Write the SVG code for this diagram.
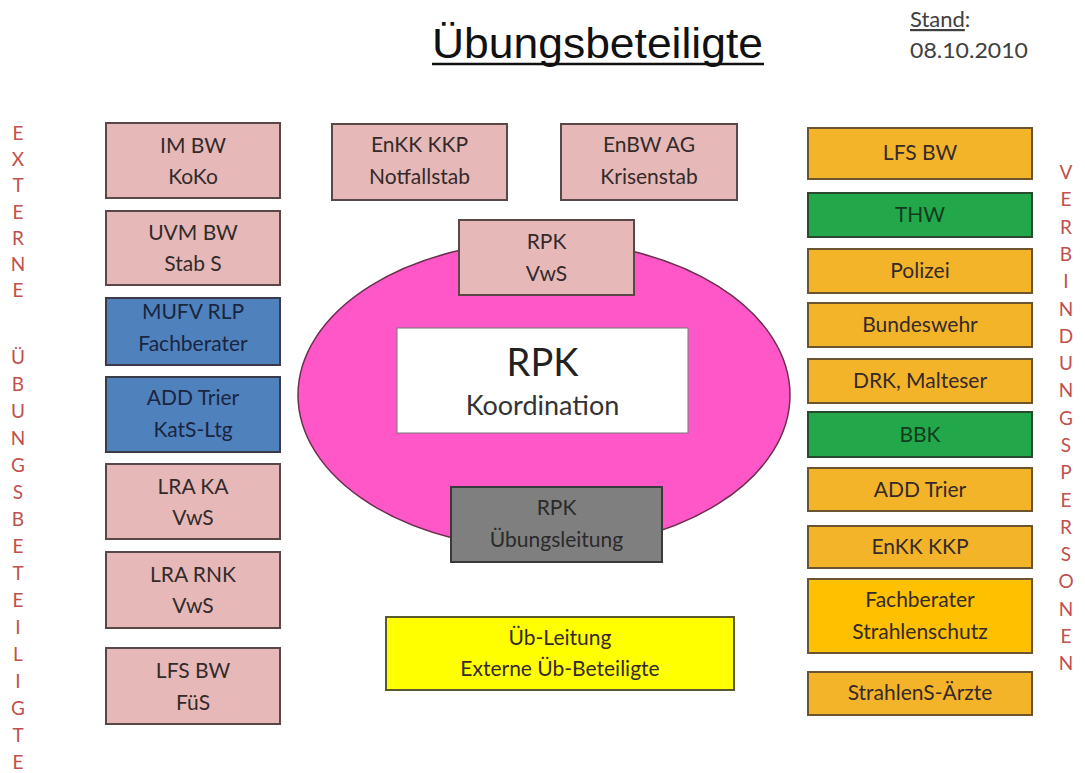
<svg xmlns="http://www.w3.org/2000/svg" width="1085" height="773" viewBox="0 0 1085 773">
<style>
.t{font-family:Lato,"Open Sans",sans-serif;font-size:21px;fill:#342a2a;text-anchor:middle}
.pk{fill:#E6B9B8;stroke:#5a4848;stroke-width:2}
.bl{fill:#4F81BD;stroke:#3a3a48;stroke-width:2}
.or{fill:#F4B42A;stroke:#6b5530;stroke-width:2}
.gd{fill:#FFC000;stroke:#6b5530;stroke-width:2}
.gr{fill:#22A84A;stroke:#2a4a30;stroke-width:2}
.tb{fill:#1a2540}
.tg{fill:#143a20}
.v{font-family:Lato,"Open Sans",sans-serif;font-size:19px;fill:#C0504D;text-anchor:middle}
</style>
<rect width="1085" height="773" fill="#ffffff"/>
<g id="title">
<text x="432" y="58" font-family="'Liberation Sans',Arial,sans-serif" font-size="42" fill="#111" textLength="331" lengthAdjust="spacingAndGlyphs">Übungsbeteiligte</text>
<line x1="432" y1="64" x2="764" y2="64" stroke="#111" stroke-width="2.5"/>
</g>
<g id="stand" font-family="Lato,'Open Sans',sans-serif" font-size="22" fill="#404040">
<text x="910" y="27"><tspan text-decoration="underline">Stand</tspan>:</text>
<text x="910" y="58" textLength="118" lengthAdjust="spacingAndGlyphs">08.10.2010</text>
</g>
<g id="ellipse"><ellipse cx="544" cy="395" rx="246" ry="154" fill="#FF57C8" stroke="#6a3050" stroke-width="1.5"/></g>
<g id="connectors"></g>
<g id="im-bw"><rect class="pk" x="106" y="123" width="174" height="75"/><text class="t" x="193" y="153">IM BW</text><text class="t" x="193" y="184">KoKo</text></g>
<g id="uvm-bw"><rect class="pk" x="106" y="211" width="174" height="74"/><text class="t" x="193" y="240">UVM BW</text><text class="t" x="193" y="271">Stab S</text></g>
<g id="mufv"><rect class="bl" x="106" y="298" width="174" height="67"/><text class="t tb" x="193" y="319">MUFV RLP</text><text class="t tb" x="193" y="351">Fachberater</text></g>
<g id="add-trier-l"><rect class="bl" x="106" y="377" width="174" height="75"/><text class="t tb" x="193" y="405">ADD Trier</text><text class="t tb" x="193" y="437">KatS-Ltg</text></g>
<g id="lra-ka"><rect class="pk" x="106" y="464" width="174" height="75"/><text class="t" x="193" y="494">LRA KA</text><text class="t" x="193" y="525">VwS</text></g>
<g id="lra-rnk"><rect class="pk" x="106" y="552" width="174" height="76"/><text class="t" x="193" y="582">LRA RNK</text><text class="t" x="193" y="613">VwS</text></g>
<g id="lfs-fus"><rect class="pk" x="106" y="648" width="174" height="76"/><text class="t" x="193" y="678">LFS BW</text><text class="t" x="193" y="710">FüS</text></g>
<g id="enkk-notfall"><rect class="pk" x="332" y="124" width="175" height="76"/><text class="t" x="419.5" y="152">EnKK KKP</text><text class="t" x="419.5" y="184">Notfallstab</text></g>
<g id="enbw"><rect class="pk" x="561" y="124" width="176" height="76"/><text class="t" x="649" y="152">EnBW AG</text><text class="t" x="649" y="184">Krisenstab</text></g>
<g id="rpk-vws"><rect class="pk" x="459" y="220" width="175" height="75"/><text class="t" x="546.5" y="249">RPK</text><text class="t" x="546.5" y="281">VwS</text></g>
<g id="rpk-koord"><rect x="397" y="328" width="291" height="105" fill="#ffffff" stroke="#777" stroke-width="1"/><text class="t" x="542.5" y="376" style="font-size:38px;fill:#222">RPK</text><text class="t" x="542.5" y="415" style="font-size:27px;fill:#333">Koordination</text></g>
<g id="rpk-uebung"><rect x="451" y="487" width="211" height="75" fill="#7F7F7F" stroke="#3a3a3a" stroke-width="2"/><text class="t" x="556.5" y="515" style="fill:#2a2a2a">RPK</text><text class="t" x="556.5" y="547" style="fill:#2a2a2a">Übungsleitung</text></g>
<g id="ueb-leitung"><rect x="386" y="617" width="348" height="73" fill="#FFFF00" stroke="#5a5a30" stroke-width="2"/><text class="t" x="560" y="645">Üb-Leitung</text><text class="t" x="560" y="676">Externe Üb-Beteiligte</text></g>
<g id="lfs-bw"><rect class="or" x="808" y="128" width="224" height="51"/><text class="t" x="920" y="160">LFS BW</text></g>
<g id="thw"><rect class="gr" x="808" y="193" width="224" height="44"/><text class="t tg" x="920" y="222">THW</text></g>
<g id="polizei"><rect class="or" x="808" y="249" width="224" height="44"/><text class="t" x="920" y="278">Polizei</text></g>
<g id="bundeswehr"><rect class="or" x="808" y="303" width="224" height="44"/><text class="t" x="920" y="332">Bundeswehr</text></g>
<g id="drk"><rect class="or" x="808" y="359" width="224" height="44"/><text class="t" x="920" y="388">DRK, Malteser</text></g>
<g id="bbk"><rect class="gr" x="808" y="412" width="224" height="45"/><text class="t tg" x="920" y="442">BBK</text></g>
<g id="add-trier-r"><rect class="or" x="808" y="468" width="224" height="43"/><text class="t" x="920" y="497">ADD Trier</text></g>
<g id="enkk-r"><rect class="or" x="808" y="526" width="224" height="42"/><text class="t" x="920" y="554">EnKK KKP</text></g>
<g id="fachberater"><rect class="gd" x="808" y="579" width="224" height="74"/><text class="t" x="920" y="607">Fachberater</text><text class="t" x="920" y="639">Strahlenschutz</text></g>
<g id="aerzte"><rect class="or" x="808" y="672" width="224" height="43"/><text class="t" x="920" y="700">StrahlenS-Ärzte</text></g>
<g id="label-left">
<text class="v" x="18" y="140">E</text><text class="v" x="18" y="166">X</text><text class="v" x="18" y="192">T</text><text class="v" x="18" y="219">E</text><text class="v" x="18" y="245">R</text><text class="v" x="18" y="271">N</text><text class="v" x="18" y="297">E</text>
<text class="v" x="18" y="364">Ü</text><text class="v" x="18" y="391">B</text><text class="v" x="18" y="418">U</text><text class="v" x="18" y="445">N</text><text class="v" x="18" y="472">G</text><text class="v" x="18" y="499">S</text><text class="v" x="18" y="526">B</text><text class="v" x="18" y="553">E</text><text class="v" x="18" y="580">T</text><text class="v" x="18" y="607">E</text><text class="v" x="18" y="634">I</text><text class="v" x="18" y="661">L</text><text class="v" x="18" y="688">I</text><text class="v" x="18" y="715">G</text><text class="v" x="18" y="742">T</text><text class="v" x="18" y="769">E</text>
</g>
<g id="label-right">
<text class="v" x="1066" y="179">V</text><text class="v" x="1066" y="206">E</text><text class="v" x="1066" y="234">R</text><text class="v" x="1066" y="261">B</text><text class="v" x="1066" y="288">I</text><text class="v" x="1066" y="316">N</text><text class="v" x="1066" y="343">D</text><text class="v" x="1066" y="370">U</text><text class="v" x="1066" y="397">N</text><text class="v" x="1066" y="425">G</text><text class="v" x="1066" y="452">S</text><text class="v" x="1066" y="479">P</text><text class="v" x="1066" y="507">E</text><text class="v" x="1066" y="534">R</text><text class="v" x="1066" y="561">S</text><text class="v" x="1066" y="588">O</text><text class="v" x="1066" y="616">N</text><text class="v" x="1066" y="643">E</text><text class="v" x="1066" y="670">N</text>
</g>
</svg>
